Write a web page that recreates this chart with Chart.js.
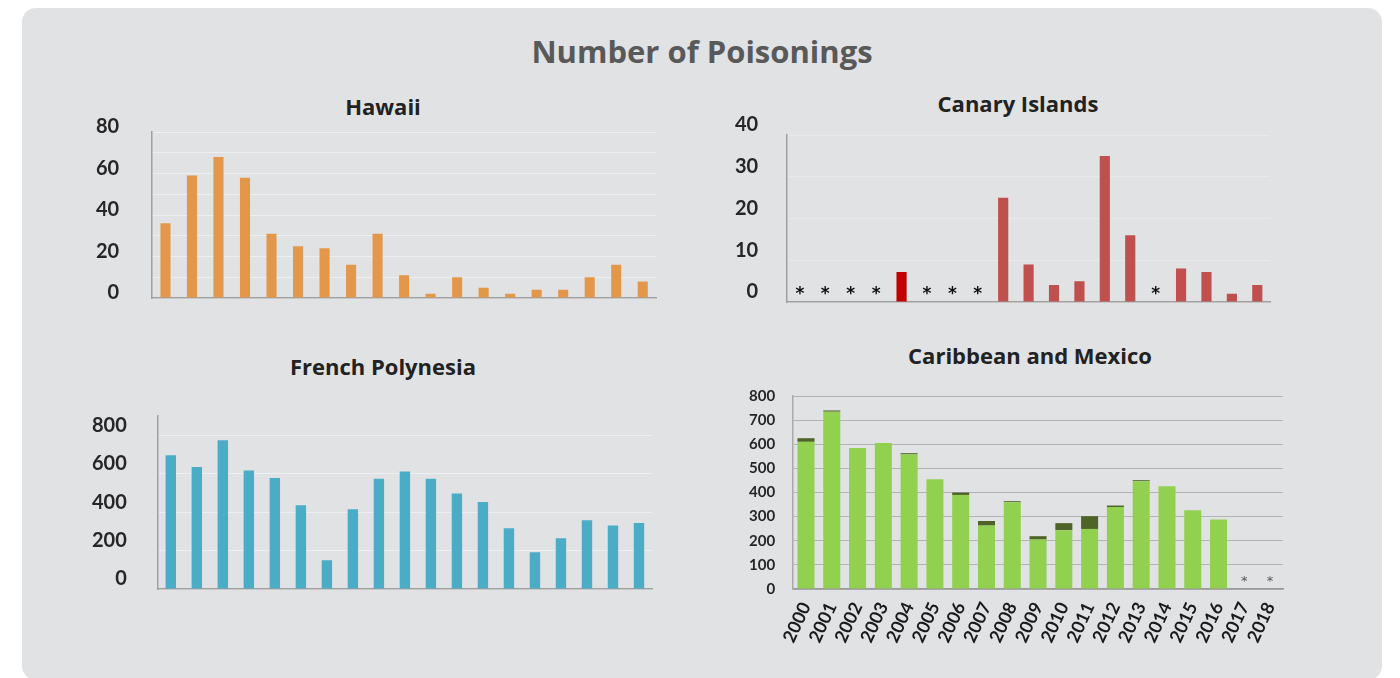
<!DOCTYPE html>
<html>
<head>
<meta charset="utf-8">
<script src="https://cdn.jsdelivr.net/npm/chart.js@4.4.1/dist/chart.umd.min.js"></script>
<style>
    body { margin: 0; background: #fff; width: 1400px; height: 678px; overflow: hidden; }
    #panel { position: absolute; left: 22px; top: 8px; width: 1360px; height: 672px; background: #e1e2e4; border-radius: 14px; }
    #main-title { position: absolute; left: 22px; width: 1360px; top: 30px; text-align: center;
        font: bold 31px "Open Sans", sans-serif; color: #595959; }
    .box { position: absolute; }
    .sub-title { position: absolute; width: 400px; text-align: center; line-height: 30px;
        font: bold 22px "Open Sans", sans-serif; color: #222; }
</style>
</head>
<body>
<div id="panel"></div>
<div id="main-title">Number of Poisonings</div>
<div class="sub-title" style="left:183px; top:91px;">Hawaii</div>
<div class="sub-title" style="left:818px; top:88px;">Canary Islands</div>
<div class="sub-title" style="left:183px; top:351px;">French Polynesia</div>
<div class="sub-title" style="left:830px; top:340px;">Caribbean and Mexico</div>
<div class="box" style="left:63px; top:87px; width:639px; height:256px;"><canvas id="hawaii"></canvas></div>
<div class="box" style="left:706px; top:84px; width:624px; height:259px;"><canvas id="canary"></canvas></div>
<div class="box" style="left:61px; top:347px; width:644px; height:285px;"><canvas id="polynesia"></canvas></div>
<div class="box" style="left:731px; top:336px; width:598px; height:312px;"><canvas id="caribbean"></canvas></div>
<script>
var years = ['2000', '2001', '2002', '2003', '2004', '2005', '2006', '2007', '2008', '2009',
    '2010', '2011', '2012', '2013', '2014', '2015', '2016', '2017', '2018'];

var hawaiiValues = [36, 59, 68, 58, 31, 25, 24, 16, 31, 11, 2, 10, 5, 2, 4, 4, 10, 16, 8];

// null = no data reported (shown as *)
var canaryValues = [null, null, null, null, 7.2, null, null, null, 25, 9, 4.1, 5, 35, 16, null, 8, 7.2, 2, 4.1];
var canaryHighlightYear = '2004';

var polynesiaValues = [696, 635, 774, 617, 578, 436, 149, 415, 573, 611, 573, 497, 453, 316, 191, 264, 358, 330, 344];

var caribbeanMain = [610, 735, 585, 605, 558, 455, 390, 263, 360, 205, 244, 249, 340, 447, 426, 327, 288, null, null];
var caribbeanExtra = [15, 5, 0, 0, 5, 0, 10, 19, 4, 14, 29, 53, 6, 4, 0, 0, 0, null, null];

var hawaiiTicks = [0, 20, 40, 60, 80];
var canaryTicks = [0, 10, 20, 30, 40];
var polynesiaTicks = [0, 200, 400, 600, 800];
var caribbeanTicks = [0, 100, 200, 300, 400, 500, 600, 700, 800];

/**
 * Draws a * above the x axis for every year without data
 */
var missingMarks = {
    id: 'missingMarks',
    afterDatasetsDraw(chart, args, opts) {
        var ctx = chart.ctx;
        var x = chart.scales.x;
        var y = chart.scales.y;
        var data = chart.data.datasets[0].data;
        ctx.save();
        ctx.font = opts.font;
        ctx.fillStyle = opts.color;
        ctx.textAlign = 'center';
        ctx.textBaseline = 'alphabetic';
        data.forEach((v, i) => {
            if (v === null)
                ctx.fillText('*', x.getPixelForValue(i), y.getPixelForValue(0) + opts.drop);
        });
        ctx.restore();
    }
};

/**
 * Common options for the small bar charts (titles are in the page)
 */
function baseOptions(padTop, yMax, yStep, shown, labelOffset, tickPad, padRight) {
    return {
        responsive: true,
        maintainAspectRatio: false,
        animation: false,
        layout: { padding: { top: padTop, right: padRight } },
        plugins: {
            legend: { display: false },
            tooltip: { enabled: false }
        },
        scales: {
            x: {
                grid: { display: false },
                border: { display: true, color: '#a0a0a0', width: 1.5 },
                ticks: { display: false }
            },
            y: {
                min: 0,
                max: yMax,
                grid: { color: 'rgba(255,255,255,0.45)', drawTicks: false },
                border: { display: true, color: '#a0a0a0', width: 1.5 },
                ticks: {
                    stepSize: yStep,
                    padding: tickPad,
                    labelOffset: labelOffset,
                    color: '#262626',
                    font: { family: 'Lato', size: 20, weight: 'bold' },
                    callback: value => shown.includes(value) ? value : ''
                }
            }
        }
    };
}

new Chart(document.getElementById('hawaii'), {
    type: 'bar',
    data: {
        labels: years,
        datasets: [{
            data: hawaiiValues,
            backgroundColor: '#e3974a',
            barPercentage: 0.38,
            categoryPercentage: 1
        }]
    },
    options: baseOptions(36, 80, 10, hawaiiTicks, -5, 33, 46)
});

var canaryOptions = baseOptions(51, 40, 10, canaryTicks, -10, 29, 60);
canaryOptions.scales.y.grid.color = 'rgba(255,255,255,0.25)';
canaryOptions.plugins.missingMarks = { font: 'bold 17px "DejaVu Sans"', color: '#111', drop: -3 };
new Chart(document.getElementById('canary'), {
    type: 'bar',
    data: {
        labels: years,
        datasets: [{
            data: canaryValues,
            backgroundColor: years.map(y => y === canaryHighlightYear ? '#c00000' : '#c0504d'),
            barPercentage: 0.4,
            categoryPercentage: 1
        }]
    },
    options: canaryOptions,
    plugins: [missingMarks]
});

new Chart(document.getElementById('polynesia'), {
    type: 'bar',
    data: {
        labels: years,
        datasets: [{
            data: polynesiaValues,
            backgroundColor: '#4bacc6',
            barPercentage: 0.4,
            categoryPercentage: 1
        }]
    },
    options: baseOptions(69, 900, 100, polynesiaTicks, -10, 31, 53)
});

var caribbeanOptions = baseOptions(60, 800, 100, caribbeanTicks, 0, 18, 46);
caribbeanOptions.scales.x.stacked = true;
caribbeanOptions.scales.y.stacked = true;
caribbeanOptions.scales.x.border.color = '#999';
caribbeanOptions.scales.y.border.color = '#aaa';
caribbeanOptions.scales.y.grid.color = '#b4b4b4';
caribbeanOptions.scales.y.ticks.font = { family: 'Lato', size: 15, weight: 'bold' };
caribbeanOptions.scales.x.ticks = {
    display: true,
    autoSkip: false,
    minRotation: 65,
    maxRotation: 65,
    padding: 2,
    color: '#1a1a1a',
    font: { family: 'Lato', size: 18, weight: 'bold' }
};
caribbeanOptions.plugins.missingMarks = { font: '13px "DejaVu Sans"', color: '#555', drop: -4 };
new Chart(document.getElementById('caribbean'), {
    type: 'bar',
    data: {
        labels: years,
        datasets: [{
            data: caribbeanMain,
            backgroundColor: '#92d050',
            barPercentage: 0.66,
            categoryPercentage: 1
        }, {
            data: caribbeanExtra,
            backgroundColor: '#4f6228',
            barPercentage: 0.66,
            categoryPercentage: 1
        }]
    },
    options: caribbeanOptions,
    plugins: [missingMarks]
});
</script>
</body>
</html>
